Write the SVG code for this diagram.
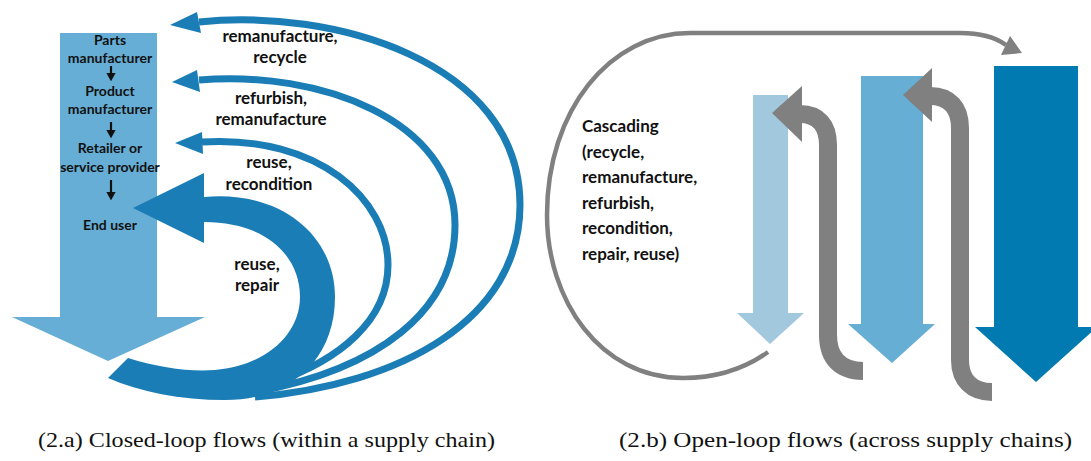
<svg xmlns="http://www.w3.org/2000/svg" width="1091" height="461" viewBox="0 0 1091 461">
<defs>
<style>
.lbl{font-family:Lato,"Liberation Sans",Arial,sans-serif;font-weight:bold;font-size:17px;fill:#111;}
.nd{font-family:Lato,"Liberation Sans",Arial,sans-serif;font-weight:bold;font-size:14px;fill:#111;text-anchor:middle;}
.cap{font-family:"Liberation Serif","Times New Roman",serif;font-size:22px;fill:#111;}
.thin{fill:none;stroke:#1a7db5;stroke-width:7;}
.blue{fill:#1a7db5;}
.gray{fill:none;stroke:#808080;stroke-width:18;}
.grayf{fill:#808080;}
.blk{stroke:#111;stroke-width:2.2;fill:none;}
</style>
<marker id="ah" markerWidth="4" markerHeight="4.4" refX="2" refY="2.2" orient="auto" markerUnits="strokeWidth">
<path d="M0,0 L4,2.2 L0,4.4 Z" fill="#111"/>
</marker>
</defs>
<rect width="1091" height="461" fill="#fff"/>

<!-- Left panel: supply chain arrow -->
<g id="supply-chain">
<path d="M60 33 H157 V317 H205 L108 361 L12 317 H60 Z" fill="#66aed6"/>
<text class="nd" x="110" y="45">Parts</text>
<text class="nd" x="110" y="63">manufacturer</text>
<text class="nd" x="110" y="96">Product</text>
<text class="nd" x="110" y="114">manufacturer</text>
<text class="nd" x="110" y="153">Retailer or</text>
<text class="nd" x="110" y="172">service provider</text>
<text class="nd" x="110" y="230">End user</text>
</g>
<g id="chain-arrows">
<line class="blk" x1="111" y1="66" x2="111" y2="77" marker-end="url(#ah)"/>
<line class="blk" x1="111" y1="122" x2="111" y2="134" marker-end="url(#ah)"/>
<line class="blk" x1="111" y1="180" x2="111" y2="196" marker-end="url(#ah)"/>
</g>

<!-- Closed-loop connectors -->
<g id="closed-loop-connectors">
<path class="thin" d="M199 22 C330 8, 520 60, 520 205 C520 320, 400 385, 255 397"/>
<polygon class="blue" points="170,25 197,12 201,33"/>
<path class="thin" d="M199 80 C320 70, 455 120, 455 225 C455 310, 380 370, 250 393"/>
<polygon class="blue" points="172,82 197,70 200,92"/>
<path class="thin" d="M202 142 C320 135, 388 200, 388 265 C388 320, 340 360, 275 382"/>
<polygon class="blue" points="175,143 202,132 203,154"/>
<path class="blue" d="M204 197 C280 190, 335 235, 335 297 C335 360, 290 400, 225 400 C180 400, 140 392, 108 378 L128 358 C160 368, 190 372, 215 370 C265 366, 300 335, 300 297 C300 255, 265 222, 204 222 Z"/>
<polygon class="blue" points="133,208 204,173 204,243"/>
</g>

<g id="closed-loop-labels">
<text class="lbl" x="280" y="42" text-anchor="middle">remanufacture,</text>
<text class="lbl" x="280" y="63" text-anchor="middle">recycle</text>
<text class="lbl" x="271" y="104" text-anchor="middle">refurbish,</text>
<text class="lbl" x="271" y="125" text-anchor="middle">remanufacture</text>
<text class="lbl" x="269" y="168" text-anchor="middle">reuse,</text>
<text class="lbl" x="269" y="190" text-anchor="middle">recondition</text>
<text class="lbl" x="257" y="270" text-anchor="middle">reuse,</text>
<text class="lbl" x="257" y="291" text-anchor="middle">repair</text>
</g>

<!-- Right panel: supply chains -->
<g id="chain-light">
<path d="M753 95 H788 V313 H804 L770 344 L737 313 H753 Z" fill="#a2c8de"/>
</g>
<g id="chain-medium">
<path d="M861 76 H923 V324 H935 L892 363 L848 324 H861 Z" fill="#66aed4"/>
</g>
<g id="chain-dark">
<path d="M994 66 H1078 V327 H1097 L1036 382 L975 327 H994 Z" fill="#007ab0"/>
</g>

<g id="open-loop-connectors">
<path d="M768 352 C740 372, 710 378, 683 378 C600 378, 547 300, 547 215 C547 110, 610 33, 690 33 L960 33 C980 33, 995 37, 1006 45" fill="none" stroke="#808080" stroke-width="4.5"/>
<polygon class="grayf" points="1022,53 1001,55 1010,36"/>
<path class="gray" d="M800 114 C818 114, 828 125, 828 145 L828 335 C828 358, 840 371, 863 371"/>
<polygon class="grayf" points="772,113 802,86 802,142"/>
<path class="gray" d="M930 96 C950 96, 960 108, 960 128 L960 360 C960 380, 972 392, 992 392"/>
<polygon class="grayf" points="903,95 932,68 932,122"/>
</g>

<g id="cascading-label">
<text class="lbl" x="582" y="132">Cascading</text>
<text class="lbl" x="582" y="157.5">(recycle,</text>
<text class="lbl" x="582" y="183">remanufacture,</text>
<text class="lbl" x="582" y="208.5">refurbish,</text>
<text class="lbl" x="582" y="234">recondition,</text>
<text class="lbl" x="582" y="259.5">repair, reuse)</text>
</g>

<g id="captions">
<text class="cap" x="38" y="447" textLength="457" lengthAdjust="spacingAndGlyphs">(2.a) Closed-loop flows (within a supply chain)</text>
<text class="cap" x="619" y="447" textLength="453" lengthAdjust="spacingAndGlyphs">(2.b) Open-loop flows (across supply chains)</text>
</g>
</svg>
